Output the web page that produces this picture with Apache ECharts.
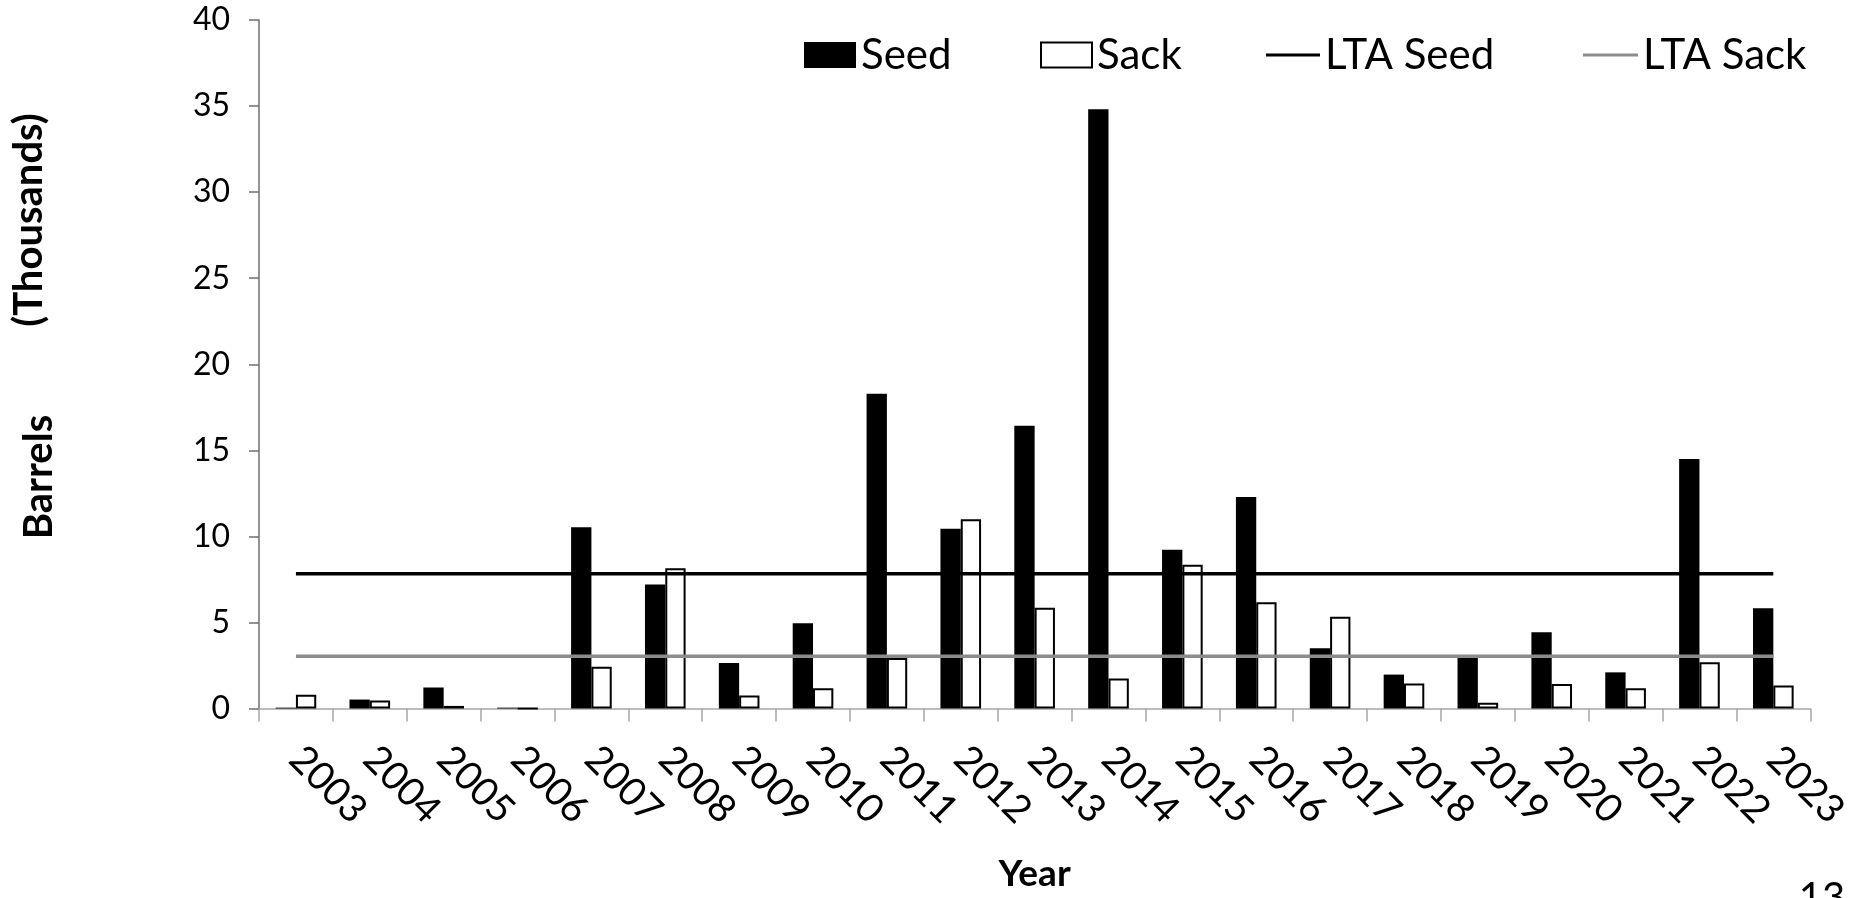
<!DOCTYPE html>
<html>
<head>
<meta charset="utf-8">
<script src="https://cdn.jsdelivr.net/npm/echarts@6/dist/echarts.min.js"></script>
<style>
html,body{margin:0;padding:0;background:#fff;}
#chart{width:1853px;height:898px;}
</style>
</head>
<body>
<div id="chart"></div>
<script>
// ---- data ----
const years = ['2003','2004','2005','2006','2007','2008','2009','2010','2011','2012','2013',
               '2014','2015','2016','2017','2018','2019','2020','2021','2022','2023'];
const seed = [0.05, 0.52, 1.22, 0.05, 10.53, 7.2, 2.65, 4.95, 18.28, 10.45, 16.42,
              34.82, 9.22, 12.29, 3.5, 1.97, 3.01, 4.43, 2.1, 14.5, 5.83];
const sack = [0.8, 0.46, 0.15, 0, 2.42, 8.15, 0.76, 1.17, 2.93, 11.0, 5.86,
              1.75, 8.35, 6.18, 5.33, 1.45, 0.33, 1.42, 1.17, 2.68, 1.34];
const ltaSeed = [7.83, 7.83, 7.83, 7.83, 7.83, 7.83, 7.83, 7.83, 7.83, 7.83, 7.83,
                 7.83, 7.83, 7.83, 7.83, 7.83, 7.83, 7.83, 7.83, 7.83, 7.83];
const ltaSack = [3.03, 3.03, 3.03, 3.03, 3.03, 3.03, 3.03, 3.03, 3.03, 3.03, 3.03,
                 3.03, 3.03, 3.03, 3.03, 3.03, 3.03, 3.03, 3.03, 3.03, 3.03];
const yMin = 0, yMax = 40, yStep = 5;
const seriesNames = ['Seed', 'Sack', 'LTA Seed', 'LTA Sack'];
const xTitle = 'Year';
const yTitleMain = 'Barrels';
const yTitleUnit = '(Thousands)';
const pageNo = '13';

// ---- chart ----
const FONT = 'Lato';
const chart = echarts.init(document.getElementById('chart'), null, {renderer: 'canvas'});
const legendText = {fontFamily: FONT, fontSize: 42, color: '#000'};
const option = {
  animation: false,
  backgroundColor: '#fff',
  textStyle: {fontFamily: FONT},
  grid: {left: 259, right: 34, top: 20, bottom: 181, containLabel: false},
  legend: [
    {data: [seriesNames[0]], left: 799, top: 29, icon: 'rect', itemWidth: 52, itemHeight: 26,
     textStyle: legendText, selectedMode: false},
    {data: [{name: seriesNames[1], itemStyle: {color: '#fff', borderColor: '#000', borderWidth: 2}}],
     left: 1035, top: 29, icon: 'rect', itemWidth: 51, itemHeight: 25,
     textStyle: legendText, selectedMode: false},
    {data: [seriesNames[2]], left: 1261, top: 29, icon: 'rect', itemWidth: 54, itemHeight: 3,
     itemStyle: {borderWidth: 0}, textStyle: legendText, selectedMode: false},
    {data: [seriesNames[3]], left: 1578, top: 29, icon: 'rect', itemWidth: 55, itemHeight: 3,
     itemStyle: {borderWidth: 0}, textStyle: legendText, selectedMode: false}
  ],
  xAxis: {
    type: 'category',
    data: years,
    boundaryGap: true,
    name: xTitle,
    nameLocation: 'middle',
    nameGap: 166,
    nameTextStyle: {fontFamily: FONT, fontWeight: 'bold', fontSize: 37, color: '#000', verticalAlign: 'middle'},
    axisLine: {show: true, lineStyle: {color: '#a6a6a6', width: 1.5}},
    axisTick: {show: true, inside: false, length: 13, interval: 0, alignWithLabel: false,
               lineStyle: {color: '#a6a6a6', width: 1.5}},
    axisLabel: {interval: 0, rotate: -45, margin: 44, fontFamily: FONT, fontSize: 39, color: '#000'},
    splitLine: {show: false}
  },
  yAxis: {
    type: 'value',
    min: yMin, max: yMax, interval: yStep,
    axisLine: {show: true, lineStyle: {color: '#6f6f6f', width: 1.5}},
    axisTick: {show: true, inside: false, length: 10, lineStyle: {color: '#6f6f6f', width: 1.5}},
    axisLabel: {margin: 29, fontFamily: FONT, fontSize: 32, color: '#000'},
    splitLine: {show: false}
  },
  series: [
    {name: seriesNames[0], type: 'bar', data: seed, barWidth: '27.5%', barGap: '0%',
     itemStyle: {color: '#000'}},
    {name: seriesNames[1], type: 'bar', data: sack, barWidth: '27.5%', barGap: '0%',
     itemStyle: {color: '#fff', borderColor: '#000', borderWidth: 2}},
    {name: seriesNames[2], type: 'line', data: ltaSeed, symbol: 'none', color: '#000',
     itemStyle: {color: '#000'}, lineStyle: {color: '#000', width: 3.5}, z: 5},
    {name: seriesNames[3], type: 'line', data: ltaSack, symbol: 'none', color: '#8c8c8c',
     itemStyle: {color: '#8c8c8c'}, lineStyle: {color: '#8c8c8c', width: 3.5}, z: 5}
  ],
  graphic: [
    {type: 'text', x: 29, y: 220, rotation: Math.PI / 2,
     style: {text: yTitleUnit, font: 'bold 40px Lato', fill: '#000', textAlign: 'center', textVerticalAlign: 'middle'}},
    {type: 'text', x: 39, y: 477, rotation: Math.PI / 2,
     style: {text: yTitleMain, font: 'bold 40px Lato', fill: '#000', textAlign: 'center', textVerticalAlign: 'middle'}},
    {type: 'text', x: 1822, y: 878,
     style: {text: pageNo, font: '40px Lato', fill: '#000', textAlign: 'center', textVerticalAlign: 'top'}}
  ]
};
chart.setOption(option);
</script>
</body>
</html>
